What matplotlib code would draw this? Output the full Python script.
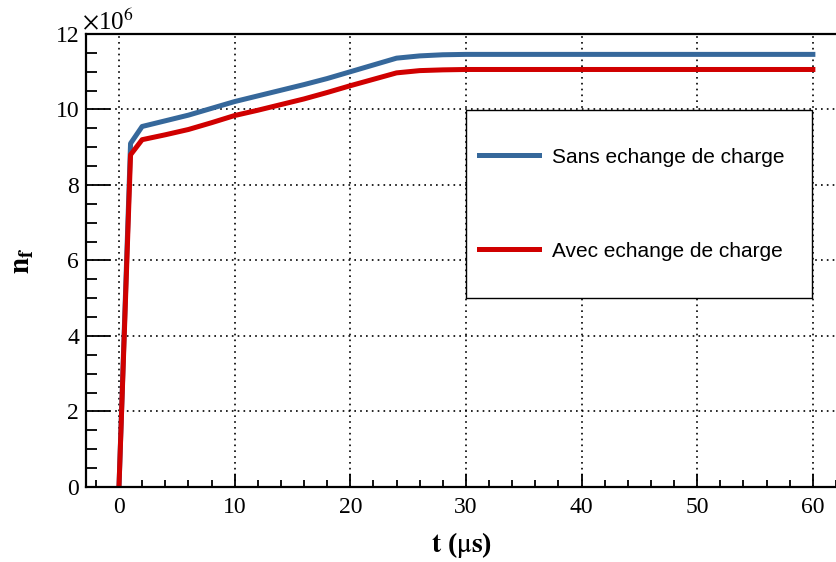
import numpy as np
import matplotlib
matplotlib.use("Agg")
import matplotlib.pyplot as plt
from matplotlib.ticker import MultipleLocator
from matplotlib.patches import Rectangle

# Data (n_f in units of 1e6)
t_us = [0, 1, 2, 4, 6, 8, 10, 12, 14, 16, 18, 20, 22, 24, 26, 28, 30,
        35, 40, 45, 50, 55, 60]
n_sans = [0, 9.10, 9.55, 9.70, 9.85, 10.03, 10.21, 10.36, 10.51, 10.66,
          10.82, 11.00, 11.18, 11.36, 11.42, 11.45, 11.46,
          11.46, 11.46, 11.46, 11.46, 11.46, 11.46]
n_avec = [0, 8.80, 9.20, 9.33, 9.47, 9.65, 9.84, 9.98, 10.13, 10.28,
          10.45, 10.63, 10.80, 10.97, 11.03, 11.05, 11.06,
          11.06, 11.06, 11.06, 11.06, 11.06, 11.06]
labels = ["Sans echange de charge", "Avec echange de charge"]
colors = ["#36689b", "#d00000"]

plt.rcParams["font.family"] = "Liberation Serif"
plt.rcParams["mathtext.fontset"] = "stix"

fig = plt.figure(figsize=(8.36, 5.62), dpi=100)
ax = fig.add_axes([0.1029, 0.1335, 0.8971, 0.806])

ax.plot(t_us, n_sans, color=colors[0], lw=3.6, label=labels[0])
ax.plot(t_us, n_avec, color=colors[1], lw=3.6, label=labels[1])

ax.set_xlim(-2.85, 62)
ax.set_ylim(0, 12)

ax.xaxis.set_major_locator(MultipleLocator(10))
ax.xaxis.set_minor_locator(MultipleLocator(2))
ax.yaxis.set_major_locator(MultipleLocator(2))
ax.yaxis.set_minor_locator(MultipleLocator(0.5))

ax.grid(True, which="major", color="black", linestyle=(0, (1, 2.5)), lw=1.2)
ax.tick_params(axis="both", which="both", direction="in", labelsize=17,
               width=1.3, top=False, right=False)
ax.tick_params(axis="y", which="major", length=17, pad=5)
ax.tick_params(axis="y", which="minor", length=8)
ax.tick_params(axis="x", which="major", length=9.5, pad=7)
ax.tick_params(axis="x", which="minor", length=5)

for side in ["left", "bottom", "top"]:
    ax.spines[side].set_linewidth(1.6)
ax.spines["right"].set_visible(False)

ax.set_xlabel(r"$\mathbf{t}$ ($\mathrm{\mu}$$\mathbf{s}$)", fontsize=20,
              fontweight="bold", labelpad=9)
ax.set_ylabel(r"$\mathbf{n_f}$", fontsize=21, labelpad=14)
ax.text(-0.005, 1.0, r"$\times$10$^6$", transform=ax.transAxes,
        fontsize=18, ha="left", va="bottom")

# legend box drawn as a plain rectangle, entries placed in it
box = (0.507, 0.417, 0.461, 0.415)
ax.add_patch(Rectangle(box[:2], box[2], box[3], transform=ax.transAxes,
                       facecolor="white", edgecolor="black", lw=1.0, zorder=5))
leg = ax.legend(loc="center left", bbox_to_anchor=(0.524, box[1] + box[3] / 2),
                frameon=False, prop={"family": "Liberation Sans", "size": 15},
                handlelength=2.9, handletextpad=0.6, labelspacing=3.6,
                borderpad=0, borderaxespad=0)
leg.set_zorder(6)

fig.savefig("out.png", dpi=100)
